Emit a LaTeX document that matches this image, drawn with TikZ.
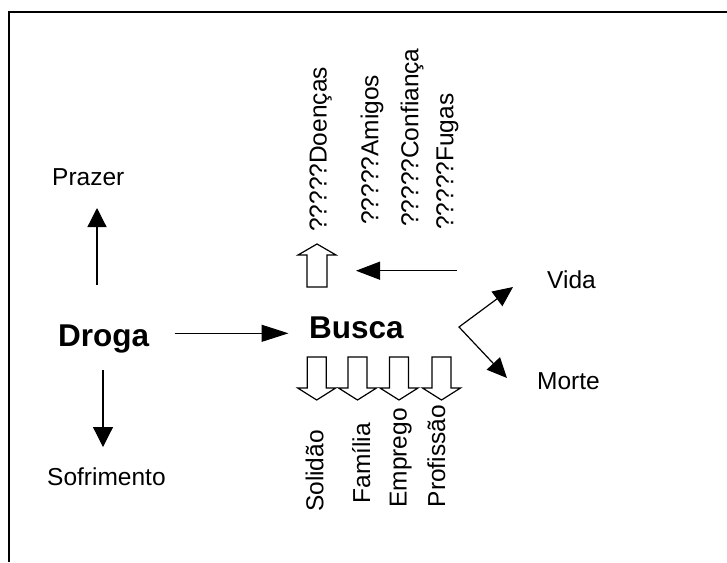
\documentclass[tikz,border=0pt]{standalone}
\usepackage{fontspec}
\setmainfont{Liberation Sans}
\usetikzlibrary{arrows.meta}
\tikzset{
  lbl/.style={inner sep=0pt, font=\fontsize{24.5}{28}\selectfont, anchor=base west},
  boldlbl/.style={inner sep=0pt, font=\fontsize{31.5}{36}\selectfont\bfseries, anchor=base west},
  vup/.style={lbl, rotate=90, anchor=base west},
  vdown/.style={lbl, rotate=90, anchor=base east},
  conn/.style={line width=1.2pt, -{Triangle[length=20pt,width=18pt]}},
  blockarrow/.style={draw, line width=1.2pt, fill=white, line join=miter},
  frameline/.style={line width=2.2pt},
  pics/blkdown/.style={code={
    \draw[blockarrow] (-9.5,0) -- (9.5,0) -- (9.5,31) -- (19,31) -- (0,43) -- (-19,31) -- (-9.5,31) -- cycle;}},
}
\begin{document}
\begin{tikzpicture}[x=1pt,y=-1pt]
\useasboundingbox (0,0) rectangle (727,562);
\fill[white] (0,0) rectangle (727,562);
% frame
\draw[frameline] (9,562) -- (9,12) -- (727,12);

% labels
\node[lbl] (prazer) at (52,185) {Prazer};
\node[boldlbl] (droga) at (58,346) {Droga};
\node[lbl] (sofr) at (47,485) {Sofrimento};
\node[boldlbl] (busca) at (309,338) {Busca};
\node[lbl] (vida) at (547,288) {Vida};
\node[lbl] (morte) at (537,389) {Morte};

% upper rotated texts
\node[vup] (doencas) at (326.7,232) {?????Doenças};
\node[vup] (amigos) at (378.3,225) {?????Amigos};
\node[vup] (confianca) at (418.3,227) {?????Confiança};
\node[vup] (fugas) at (453.3,230) {?????Fugas};

% lower rotated texts
\node[vdown] (solidao) at (323.3,430) {Solidão};
\node[vdown] (familia) at (370,423) {Família};
\node[vdown] (emprego) at (406.5,408) {Emprego};
\node[vdown] (profissao) at (445,405) {Profissão};

% connector end points
\coordinate (pz0) at (97,285);
\coordinate (pz1) at (97,208);
\coordinate (sf0) at (103,370);
\coordinate (sf1) at (103,447);
\coordinate (db0) at (174.5,333.3);
\coordinate (db1) at (288.5,333.3);
\coordinate (lf0) at (456.7,270.7);
\coordinate (lf1) at (356,270.7);
\coordinate (jn) at (459,327);
\coordinate (vt) at (513,287);
\coordinate (mt) at (507,378);

\draw[conn, -{Triangle[length=19pt,width=19pt]}] (pz0) -- (pz1);
\draw[conn, -{Triangle[length=20pt,width=20pt]}] (sf0) -- (sf1);
\draw[conn, -{Triangle[length=27pt,width=17pt]}] (db0) -- (db1);
\draw[conn, -{Triangle[length=24pt,width=18pt]}] (lf0) -- (lf1);
\draw[line width=1.2pt, {Triangle[length=20pt,width=18pt]}-{Triangle[length=20pt,width=18pt]}] (vt) -- (jn) -- (mt);

% hollow block arrows
\draw[blockarrow] (307,287) -- (327,287) -- (327,255) -- (336,255) -- (317,244) -- (298,255) -- (307,255) -- cycle;
\pic at (316.7,357) {blkdown};
\pic at (357.5,357) {blkdown};
\pic at (399,357) {blkdown};
\pic at (441.5,357) {blkdown};
\end{tikzpicture}
\end{document}
